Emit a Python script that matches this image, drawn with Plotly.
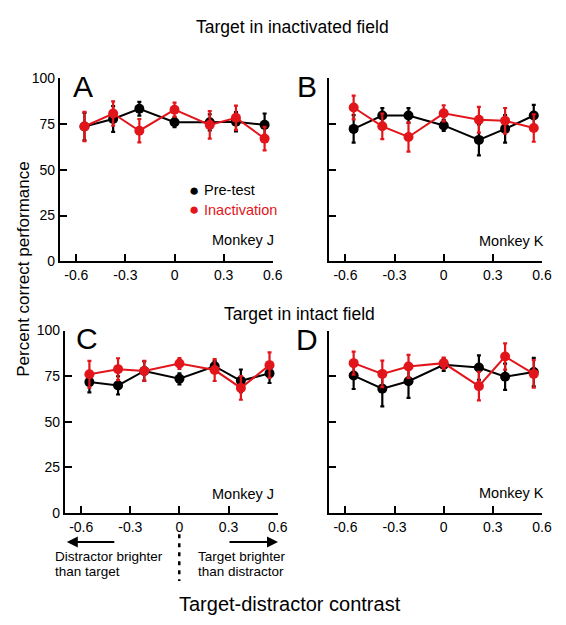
import plotly.graph_objects as go

# ---------------- data ----------------
contrast = [-0.55, -0.375, -0.215, 0, 0.215, 0.375, 0.55]
x_ticks = [-0.6, -0.3, 0, 0.3, 0.6]
x_tick_labels = ["-0.6", "-0.3", "0", "0.3", "0.6"]
y_ticks = [0, 25, 50, 75, 100]
y_tick_labels = ["0", "25", "50", "75", "100"]

# Panel A: target in inactivated field, Monkey J
A_pre = [73.6, 77.7, 83.3, 75.9, 75.9, 76.2, 74.5]
A_pre_err = [7.5, 7.0, 3.7, 2.7, 4.4, 5.3, 6.2]
A_inact = [73.6, 80.7, 71.3, 82.8, 74.5, 78.4, 67.0]
A_inact_err = [8.0, 6.6, 6.4, 3.8, 7.5, 6.6, 6.4]

# Panel B: target in inactivated field, Monkey K
B_pre = [72.3, 79.6, 79.6, 74.2, 66.3, 72.3, 79.6]
B_pre_err = [7.5, 4.0, 4.0, 3.0, 8.4, 7.5, 5.8]
B_inact = [84.0, 73.7, 67.9, 80.8, 77.3, 76.7, 72.8]
B_inact_err = [6.5, 7.0, 8.0, 4.4, 7.0, 7.0, 7.5]

# Panel C: target in intact field, Monkey J
C_pre = [71.7, 69.9, 77.8, 73.5, 80.4, 72.4, 76.5]
C_pre_err = [5.6, 5.0, 5.3, 3.0, 3.0, 6.2, 5.3]
C_inact = [76.0, 78.8, 77.8, 81.9, 78.3, 68.5, 81.0]
C_inact_err = [7.3, 6.0, 5.5, 3.0, 6.0, 6.5, 7.0]

# Panel D: target in intact field, Monkey K
D_pre = [75.3, 68.1, 72.2, 81.2, 79.7, 74.6, 77.2]
D_pre_err = [7.4, 9.7, 9.2, 3.4, 6.7, 7.2, 7.8]
D_inact = [82.1, 76.2, 80.3, 82.1, 69.5, 85.7, 76.2]
D_inact_err = [6.3, 7.3, 6.3, 3.0, 7.8, 7.2, 7.6]

series_names = ["Pre-test", "Inactivation"]
panel_letters = ["A", "B", "C", "D"]
monkeys = ["Monkey J", "Monkey K", "Monkey J", "Monkey K"]

# ---------------- style ----------------
W, H = 566, 625
BLACK = "#000000"
RED = "#E2151B"
FONT = "Liberation Sans, Arial, Helvetica, sans-serif"


def px(x):
    return x / W


def py(y):
    return 1 - y / H


# panel boxes in pixels: (left, right, top, bottom)
boxes = [
    (61, 277.7, 72, 260),
    (335, 551.7, 72, 260),
    (66, 282.7, 331, 518),
    (335, 551.7, 331, 518),
]

panels = [
    (A_pre, A_pre_err, A_inact, A_inact_err),
    (B_pre, B_pre_err, B_inact, B_inact_err),
    (C_pre, C_pre_err, C_inact, C_inact_err),
    (D_pre, D_pre_err, D_inact, D_inact_err),
]

fig = go.Figure()
layout = dict(
    width=W,
    height=H,
    margin=dict(l=0, r=0, t=0, b=0),
    paper_bgcolor="white",
    plot_bgcolor="white",
    showlegend=False,
    font=dict(family=FONT, size=14, color=BLACK),
)

for i, (pre, pre_err, ina, ina_err) in enumerate(panels):
    n = "" if i == 0 else str(i + 1)
    xa, ya = "x" + n, "y" + n
    for vals, errs, col in ((pre, pre_err, BLACK), (ina, ina_err, RED)):
        fig.add_trace(
            go.Scatter(
                x=contrast,
                y=vals,
                xaxis=xa,
                yaxis=ya,
                mode="lines+markers",
                line=dict(color=col, width=2),
                marker=dict(color=col, size=10),
                error_y=dict(type="data", array=errs, color=col, thickness=2.2, width=2),
                cliponaxis=False,
                name=series_names[0] if col == BLACK else series_names[1],
            )
        )
    l, r, t, b = boxes[i]
    layout["xaxis" + n] = dict(
        domain=[px(l), px(r)],
        range=[-0.7, 0.6],
        anchor=ya,
        showline=True,
        linecolor=BLACK,
        linewidth=2,
        ticks="inside",
        ticklen=7,
        tickwidth=2,
        tickcolor=BLACK,
        tickvals=x_ticks,
        ticktext=x_tick_labels,
        tickfont=dict(size=14),
        showgrid=False,
        zeroline=False,
        fixedrange=True,
    )
    layout["yaxis" + n] = dict(
        domain=[py(b), py(t)],
        range=[0, 100],
        anchor=xa,
        showline=True,
        linecolor=BLACK,
        linewidth=2,
        ticks="inside",
        ticklen=7,
        tickwidth=2,
        tickcolor=BLACK,
        tickvals=y_ticks,
        ticktext=y_tick_labels,
        showticklabels=(i % 2 == 0),
        tickfont=dict(size=14),
        showgrid=False,
        zeroline=False,
        fixedrange=True,
    )

annotations = []


def txt(x, y, s, size, color=BLACK, xanchor="center", yanchor="middle", angle=0):
    annotations.append(
        dict(
            x=px(x), y=py(y), xref="paper", yref="paper", text=s, showarrow=False,
            font=dict(family=FONT, size=size, color=color),
            xanchor=xanchor, yanchor=yanchor, textangle=angle,
        )
    )


# titles
txt(298, 20, "Target in inactivated field", 17.5)
txt(305, 314, "Target in intact field", 17.5)
txt(24, 268, "Percent correct performance", 17, angle=-90)
txt(295, 612, "Target-distractor contrast", 20)

# panel letters
letter_pos = [(84, 81), (313, 81), (89, 339), (313, 340)]
for (x, y), s in zip(letter_pos, panel_letters):
    txt(x, y, s, 30)

# monkey labels
monkey_pos = [(281, 238), (556, 239), (281, 499), (556, 498)]
for (x, y), s in zip(monkey_pos, monkeys):
    txt(x, y, s, 14.5, xanchor="right")

# legend (text)
txt(190, 187, "\u25CF", 17, xanchor="left")
txt(205.5, 187, series_names[0], 14.5, xanchor="left")
txt(190, 207, "\u25CF", 17, color=RED, xanchor="left")
txt(205.5, 207, series_names[1], 14.5, color=RED, xanchor="left")

# direction notes
txt(54, 563, "Distractor brighter", 13.5, xanchor="left")
txt(54, 578, "than target", 13.5, xanchor="left")
txt(200, 563, "Target brighter", 13.5, xanchor="left")
txt(200, 578, "than distractor", 13.5, xanchor="left")

# arrows (head position, tail offset in pixels)
for head, dx in (((68, 548), 49), ((283, 548), -50)):
    annotations.append(
        dict(
            x=px(head[0]), y=py(head[1]), ax=dx, ay=0,
            xref="paper", yref="paper", axref="pixel", ayref="pixel",
            text="", showarrow=True, arrowhead=2, arrowsize=1.1, arrowwidth=2,
            arrowcolor=BLACK,
        )
    )

layout["annotations"] = annotations
layout["shapes"] = [
    dict(
        type="line", xref="paper", yref="paper",
        x0=px(182.5), x1=px(182.5), y0=py(540), y1=py(588),
        line=dict(color=BLACK, width=2.5, dash="4px,5px"),
    )
]

fig.update_layout(**layout)
fig.write_html(
    "out.html",
    config={"displayModeBar": False},
    post_script="document.body.style.margin='0';document.body.style.padding='0';",
)
